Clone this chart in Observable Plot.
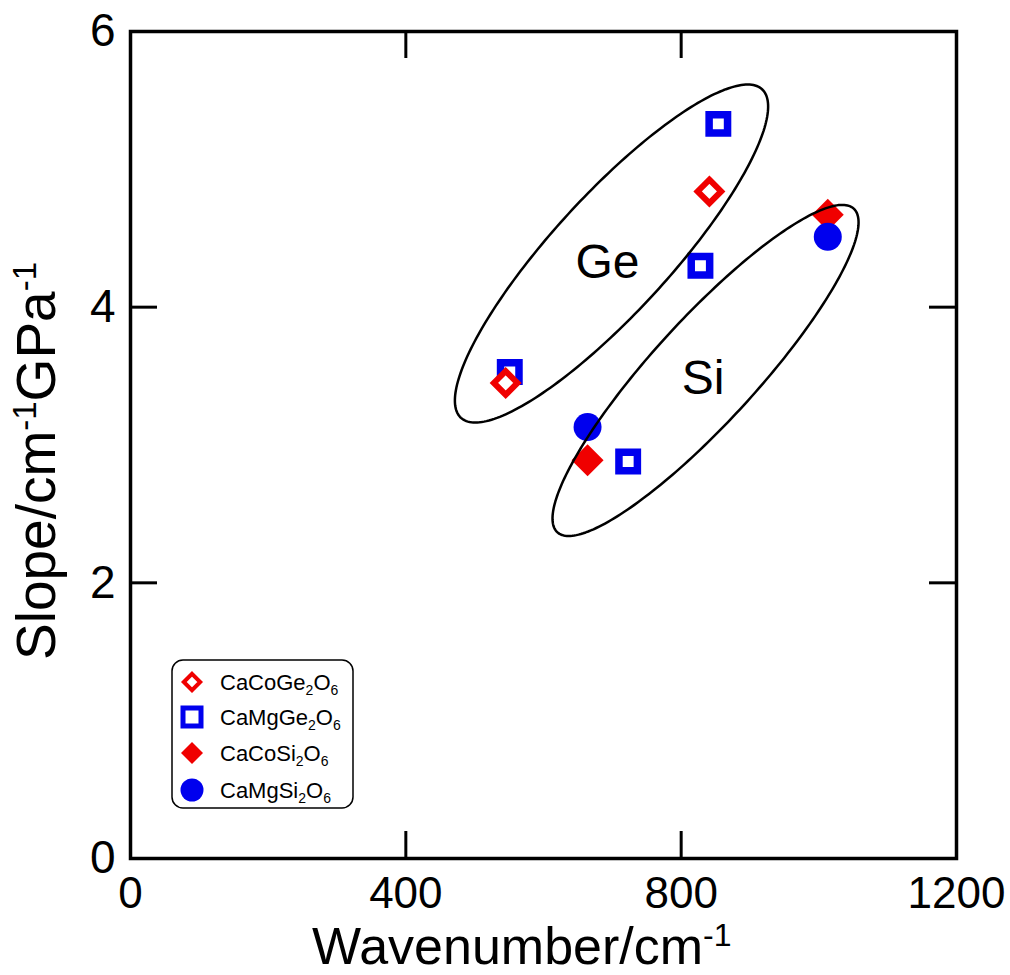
<!DOCTYPE html>
<html><head><meta charset="utf-8">
<script src="https://cdn.jsdelivr.net/npm/d3@7"></script>
<script src="https://cdn.jsdelivr.net/npm/@observablehq/plot@0.6"></script>
<style>body{margin:0;background:#fff} svg{display:block}</style>
</head><body><div id="chart"></div>
<script>
// ---- data ----
const compounds = ["CaCoGe2O6", "CaMgGe2O6", "CaCoSi2O6", "CaMgSi2O6"];
const caCoGeX = [545, 841];            const caCoGeY = [3.45, 4.84];
const caMgGeX = [551, 854, 828, 723];  const caMgGeY = [3.53, 5.33, 4.30, 2.88];
const caCoSiX = [664, 1013];           const caCoSiY = [2.89, 4.67];
const caMgSiX = [664, 1013];           const caMgSiY = [3.13, 4.51];

const xTickLabels = [0, 400, 800, 1200];
const yTickLabels = [0, 2, 4, 6];
const xTickMarks = [400, 800];
const yTickMarks = [2, 4];

// group ellipses (data units): centre, semi-major and semi-minor vectors
const groupNames = ["Ge", "Si"];
const groupCx = [698.8, 835.4];
const groupCy = [4.389, 3.541];
const majorDx = [218.7, 215.3];
const majorDy = [1.192, 1.174];
const minorDx = [-62.8, -55.4];
const minorDy = [0.287, 0.253];
const labelX = [693, 832];
const labelY = [4.32, 3.48];

// ---- build tables ----
const pts = (xs, ys) => xs.map((x, i) => ({x, y: ys[i]}));
const ellipsePts = [];
groupNames.forEach((g, k) => {
  for (let i = 0; i <= 240; i++) {
    const t = (i / 240) * 2 * Math.PI;
    ellipsePts.push({
      g,
      x: groupCx[k] + majorDx[k] * Math.cos(t) + minorDx[k] * Math.sin(t),
      y: groupCy[k] + majorDy[k] * Math.cos(t) + minorDy[k] * Math.sin(t)
    });
  }
});
const groupLabels = groupNames.map((g, i) => ({g, x: labelX[i], y: labelY[i]}));

const RED = "#f00000", BLUE = "#0000ee";
const FONT = "'Liberation Sans', Arial, Helvetica, sans-serif";

const W = 1010, H = 975, ML = 130, MR = 54, MT = 31, MB = 117;
const plotW = W - ML - MR, plotH = H - MT - MB, tickLen = 27;

const svg = Plot.plot({
  width: W, height: H,
  marginLeft: ML, marginRight: MR, marginTop: MT, marginBottom: MB,
  style: {fontFamily: FONT, background: "white", color: "black"},
  x: {domain: [0, 1200]},
  y: {domain: [0, 6]},
  marks: [
    Plot.axisX(xTickLabels, {tickSize: 0, tickPadding: 18, fontSize: 44, label: null, tickFormat: d => String(d)}),
    Plot.axisY(yTickLabels, {tickSize: 0, tickPadding: 15, fontSize: 46, label: null, tickFormat: d => String(d)}),
    Plot.ruleX(xTickMarks, {insetTop: plotH - tickLen, stroke: "black", strokeWidth: 3}),
    Plot.ruleX(xTickMarks, {insetBottom: plotH - tickLen, stroke: "black", strokeWidth: 3}),
    Plot.ruleY(yTickMarks, {insetRight: plotW - tickLen, stroke: "black", strokeWidth: 3}),
    Plot.ruleY(yTickMarks, {insetLeft: plotW - tickLen, stroke: "black", strokeWidth: 3}),
    Plot.dot(pts(caMgGeX, caMgGeY), {x: "x", y: "y", symbol: "square", r: 10.4, stroke: BLUE, strokeWidth: 7.5, fill: "white"}),
    Plot.dot(pts(caCoGeX, caCoGeY), {x: "x", y: "y", symbol: "diamond2", r: 10.6, stroke: RED, strokeWidth: 6, fill: "white"}),
    Plot.dot(pts(caCoSiX, caCoSiY), {x: "x", y: "y", symbol: "diamond2", r: 14.4, fill: RED, stroke: "none"}),
    Plot.dot(pts(caMgSiX, caMgSiY), {x: "x", y: "y", symbol: "circle", r: 14, fill: BLUE, stroke: "none"}),
    Plot.line(ellipsePts, {x: "x", y: "y", z: "g", stroke: "black", strokeWidth: 2.5}),
    Plot.text(groupLabels, {x: "x", y: "y", text: "g", fontSize: 48, fill: "black"}),
    Plot.frame({stroke: "black", strokeWidth: 3.5})
  ]
});

const s = d3.select(svg);

// axis titles with superscripts
const xl = s.append("text").attr("x", 312).attr("y", 964).attr("text-anchor", "start")
  .attr("font-family", FONT).attr("font-size", 52).attr("fill", "black");
xl.append("tspan").text("Wavenumber/cm");
xl.append("tspan").attr("font-size", 32).attr("dy", -18).text("-1");

const yl = s.append("text").attr("transform", "translate(55,660) rotate(-90)").attr("text-anchor", "start")
  .attr("font-family", FONT).attr("font-size", 55).attr("fill", "black");
yl.append("tspan").text("Slope/cm");
yl.append("tspan").attr("font-size", 33).attr("dy", -19).text("-1");
yl.append("tspan").attr("dy", 19).text("GPa");
yl.append("tspan").attr("font-size", 33).attr("dy", -19).text("-1");

// legend
const lg = s.append("g");
lg.append("rect").attr("x", 172).attr("y", 660).attr("width", 181).attr("height", 148)
  .attr("rx", 11).attr("fill", "white").attr("stroke", "black").attr("stroke-width", 1.5);
const legendStyles = [
  {type: d3.symbolDiamond2, size: 171, fill: "white", stroke: RED, sw: 4},
  {type: d3.symbolSquare, size: 324, fill: "white", stroke: BLUE, sw: 5},
  {type: d3.symbolDiamond2, size: 308, fill: RED, stroke: "none", sw: 0},
  {type: d3.symbolCircle, size: 415, fill: BLUE, stroke: "none", sw: 0}
];
const rowY = [682, 717, 753, 790];
compounds.forEach((name, i) => {
  const st = legendStyles[i];
  lg.append("path").attr("transform", `translate(192,${rowY[i]})`)
    .attr("d", d3.symbol().type(st.type).size(st.size)())
    .attr("fill", st.fill).attr("stroke", st.stroke).attr("stroke-width", st.sw);
  const t = lg.append("text").attr("x", 220).attr("y", rowY[i] + 7.5).attr("text-anchor", "start")
    .attr("font-family", FONT).attr("font-size", 22).attr("fill", "black");
  name.split(/(\d)/).filter(p => p.length).forEach(p => {
    if (/\d/.test(p)) {
      t.append("tspan").attr("font-size", 14).attr("dy", 5).text(p);
    } else {
      const tp = t.append("tspan").text(p);
      if (t.selectAll("tspan").size() > 1) tp.attr("dy", -5);
    }
  });
});

document.getElementById("chart").appendChild(svg);
</script>
</body></html>
